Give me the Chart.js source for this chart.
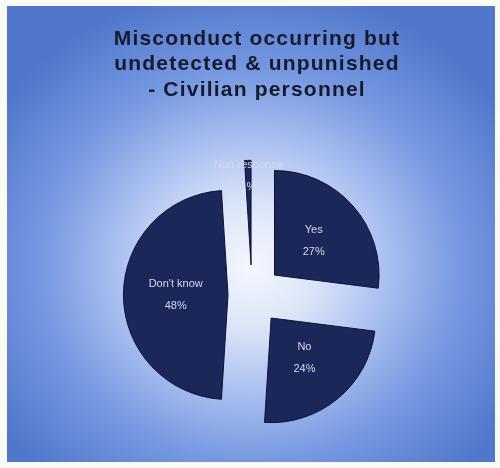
<!DOCTYPE html>
<html>
<head>
<script src="https://cdn.jsdelivr.net/npm/chart.js"></script>
<style>
  html, body { margin: 0; padding: 0; background: #fbfbf6; }
  body { width: 500px; height: 468px; position: relative; overflow: hidden; }
  .panel {
    position: absolute; left: 7px; top: 6px; width: 488px; height: 456px;
    background: radial-gradient(ellipse 62% 62% at 50% 57%, #f4f7fd 0%, #dbe5f8 22%, #a9bff0 45%, #7497e0 70%, #5177cb 100%);
  }
  canvas { display: block; }
</style>
</head>
<body>
<div class="panel"><canvas id="pie" width="488" height="456"></canvas></div>
<script>
const titleLines = ['Misconduct occurring but', 'undetected & unpunished', '- Civilian personnel'];
const categories = ['Yes', 'No', "Don't know", 'Non-response'];
const percents = [27, 24, 48, 1];
// how far each slice is pulled out (px)
const explode = [30, 30, 24, 30];

// title: spaced letters, nudged a bit right
const titleTweak = {
  id: 'titleTweak',
  beforeDraw(chart) {
    chart.ctx.save();
    chart.ctx.letterSpacing = '1.2px';
    chart.ctx.translate(5, 0);
  },
  beforeDatasetsDraw(chart) { chart.ctx.restore(); }
};

// pull every slice out along its middle angle
const explodeSlices = {
  id: 'explodeSlices',
  afterUpdate(chart) {
    chart.getDatasetMeta(0).data.forEach((arc, i) => {
      const mid = (arc.startAngle + arc.endAngle) / 2;
      arc.x += Math.cos(mid) * explode[i];
      arc.y += Math.sin(mid) * explode[i];
    });
  }
};

// white-ish labels inside each slice
const sliceLabels = {
  id: 'sliceLabels',
  afterDatasetsDraw(chart) {
    const ctx = chart.ctx;
    const meta = chart.getDatasetMeta(0);
    const total = percents.reduce((a, b) => a + b, 0);
    ctx.save();
    ctx.font = '11px "Liberation Sans", Arial, sans-serif';
    ctx.fillStyle = '#d4d9ea';
    ctx.textAlign = 'center';
    ctx.textBaseline = 'middle';
    meta.data.forEach((arc, i) => {
      const mid = (arc.startAngle + arc.endAngle) / 2;
      const small = percents[i] / total < 0.03;
      const r = small ? arc.outerRadius * 0.85 : arc.outerRadius * 0.5;
      const x = arc.x + Math.cos(mid) * r;
      const y = arc.y + Math.sin(mid) * r;
      ctx.fillText(categories[i], x, y - 11);
      ctx.fillText(percents[i] + '%', x, y + 11);
    });
    ctx.restore();
  }
};

new Chart(document.getElementById('pie'), {
  type: 'pie',
  data: {
    labels: categories,
    datasets: [{
      data: percents,
      backgroundColor: '#1b2659',
      borderColor: '#0d1335',
      borderWidth: 1
    }]
  },
  options: {
    responsive: false,
    animation: false,
    events: [],
    layout: { padding: { top: 0, bottom: 62, left: 2, right: 0 } },
    plugins: {
      legend: { display: false },
      tooltip: { enabled: false },
      title: {
        display: true,
        text: titleLines,
        color: '#141a2c',
        font: { family: '"Liberation Sans", Arial, sans-serif', size: 21, weight: 'bold', lineHeight: 1.22 },
        padding: { top: 20, bottom: 87 }
      }
    }
  },
  plugins: [titleTweak, explodeSlices, sliceLabels]
});
</script>
</body>
</html>
